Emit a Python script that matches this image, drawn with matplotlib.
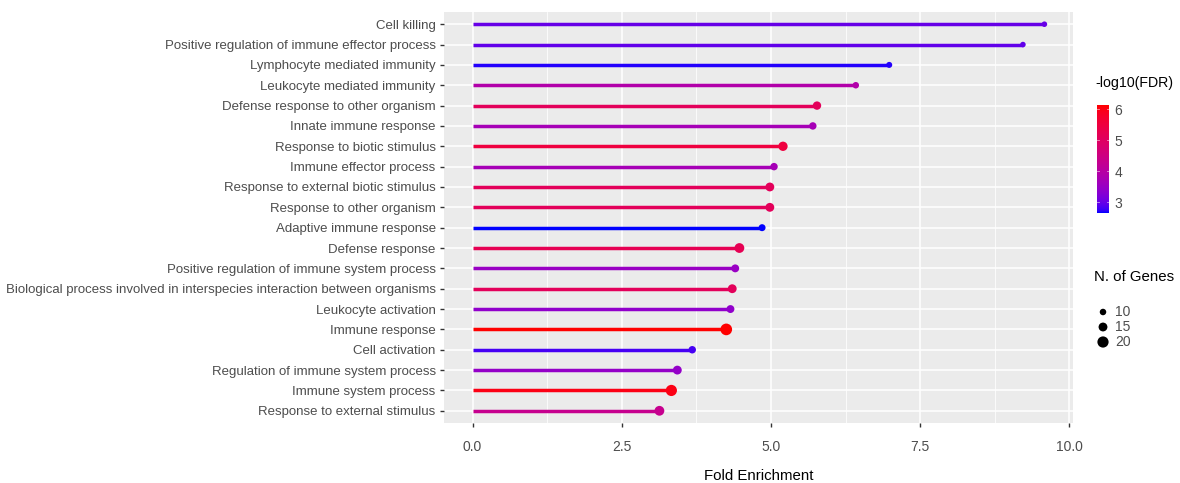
import numpy as np
import matplotlib
matplotlib.use("Agg")
import matplotlib.pyplot as plt
from matplotlib.colors import ListedColormap, Normalize
from matplotlib.ticker import MultipleLocator

# ---- data -------------------------------------------------------------
terms = [
    "Cell killing",
    "Positive regulation of immune effector process",
    "Lymphocyte mediated immunity",
    "Leukocyte mediated immunity",
    "Defense response to other organism",
    "Innate immune response",
    "Response to biotic stimulus",
    "Immune effector process",
    "Response to external biotic stimulus",
    "Response to other organism",
    "Adaptive immune response",
    "Defense response",
    "Positive regulation of immune system process",
    "Biological process involved in interspecies interaction between organisms",
    "Leukocyte activation",
    "Immune response",
    "Cell activation",
    "Regulation of immune system process",
    "Immune system process",
    "Response to external stimulus",
]
fold_enrichment = [9.58, 9.22, 6.98, 6.42, 5.77, 5.70, 5.20, 5.05, 4.98, 4.98,
                   4.85, 4.47, 4.40, 4.35, 4.32, 4.25, 3.68, 3.43, 3.33, 3.13]
neg_log10_fdr = [3.00, 2.95, 2.70, 3.90, 5.10, 3.70, 5.50, 3.70, 5.10, 5.10,
                 2.65, 5.20, 3.50, 5.10, 3.40, 6.13, 2.80, 3.45, 6.00, 4.30]
n_genes = [8, 8, 9, 10, 14, 12, 16, 12, 15, 15,
           11, 17, 13, 15, 13, 21, 12, 15, 20, 17]
size_breaks = [10, 15, 20]
fdr_breaks = [3, 4, 5, 6]
x_breaks = [0.0, 2.5, 5.0, 7.5, 10.0]

plt.rcParams["font.family"] = ["Liberation Sans", "DejaVu Sans"]

GREY_TXT = "#4D4D4D"
PANEL = "#EBEBEB"


# ---- blue -> red gradient interpolated in CIE Lab ---------------------
def srgb_to_lab(rgb):
    rgb = np.asarray(rgb, float)
    lin = np.where(rgb <= 0.04045, rgb / 12.92, ((rgb + 0.055) / 1.055) ** 2.4)
    M = np.array([[0.4124, 0.3576, 0.1805],
                  [0.2126, 0.7152, 0.0722],
                  [0.0193, 0.1192, 0.9505]])
    xyz = M @ lin / np.array([0.95047, 1.0, 1.08883])
    f = np.where(xyz > 0.008856, np.cbrt(xyz), 7.787 * xyz + 16 / 116)
    return np.array([116 * f[1] - 16, 500 * (f[0] - f[1]), 200 * (f[1] - f[2])])


def lab_to_srgb(lab):
    L, a, b = lab
    fy_ = (L + 16) / 116
    fx_ = fy_ + a / 500
    fz_ = fy_ - b / 200
    f = np.array([fx_, fy_, fz_])
    xyz = np.where(f ** 3 > 0.008856, f ** 3, (f - 16 / 116) / 7.787)
    xyz = xyz * np.array([0.95047, 1.0, 1.08883])
    Minv = np.array([[3.2406, -1.5372, -0.4986],
                     [-0.9689, 1.8758, 0.0415],
                     [0.0557, -0.2040, 1.0570]])
    lin = np.clip(Minv @ xyz, 0, 1)
    rgb = np.where(lin <= 0.0031308, 12.92 * lin, 1.055 * lin ** (1 / 2.4) - 0.055)
    return np.clip(rgb, 0, 1)


lab_lo = srgb_to_lab([0, 0, 1])
lab_hi = srgb_to_lab([1, 0, 0])
cmap = ListedColormap([lab_to_srgb(lab_lo + t * (lab_hi - lab_lo))
                       for t in np.linspace(0, 1, 256)])
norm = Normalize(vmin=min(neg_log10_fdr), vmax=max(neg_log10_fdr))


def genes_to_area(g):
    diam_px = 1.8 + 0.47 * np.asarray(g, float)
    return (diam_px * 72 / 100) ** 2


# ---- figure -----------------------------------------------------------
W, H = 1180, 483
fig = plt.figure(figsize=(W / 100, H / 100), dpi=100)


def fx(px):
    return px / W


def fy(px):
    return 1 - px / H


ax = fig.add_axes([fx(444), fy(423), fx(1073) - fx(444), fy(12) - fy(423)])
ax.set_facecolor(PANEL)
for s in ax.spines.values():
    s.set_visible(False)

ypos = np.arange(len(terms))[::-1]
colors = cmap(norm(np.asarray(neg_log10_fdr)))

ax.hlines(ypos, 0, fold_enrichment, colors=colors, linewidth=2.5, zorder=3)
ax.scatter(fold_enrichment, ypos, s=genes_to_area(n_genes), c=colors,
           zorder=4, linewidths=0)

xmax = max(fold_enrichment)
pad = 0.05 * xmax
ax.set_xlim(-pad, xmax + pad)
ax.set_ylim(-0.6, len(terms) - 0.4)

ax.set_xticks(x_breaks)
ax.set_xticklabels([f"{v:.1f}" for v in x_breaks])
ax.xaxis.set_minor_locator(MultipleLocator(1.25))
ax.set_yticks(ypos)
ax.set_yticklabels(terms)

ax.grid(True, which="major", color="white", linewidth=1.1, zorder=0)
ax.grid(True, which="minor", axis="x", color="white", linewidth=0.55, zorder=0)
ax.set_axisbelow(True)
ax.tick_params(axis="both", which="major", length=3, width=1, color="#333333",
               labelcolor=GREY_TXT, pad=3)
ax.tick_params(axis="y", labelsize=9.5)
ax.tick_params(axis="x", labelsize=10, pad=9)
ax.tick_params(axis="x", which="minor", length=0)
ax.set_xlabel("Fold Enrichment", fontsize=10.8, color="black", labelpad=11)

# ---- colour bar legend -----------------------------------------------
fig.text(fx(1095), fy(83), "-log10(FDR)", fontsize=10.2, color="black",
         va="center", ha="left")
cax = fig.add_axes([fx(1097), fy(213), fx(1109) - fx(1097), fy(105) - fy(213)])
grad = np.linspace(norm.vmin, norm.vmax, 200).reshape(-1, 1)
cax.imshow(grad, aspect="auto", origin="lower", cmap=cmap, norm=norm,
           extent=[0, 1, norm.vmin, norm.vmax])
cax.set_xlim(0, 1)
cax.set_ylim(norm.vmin, norm.vmax)
cax.set_xticks([])
cax.yaxis.tick_right()
cax.set_yticks(fdr_breaks)
cax.tick_params(axis="y", length=0, labelsize=10, labelcolor=GREY_TXT, pad=4)
for v in fdr_breaks:
    cax.plot([0, 0.2], [v, v], color="white", lw=0.6, alpha=0.6)
    cax.plot([0.8, 1], [v, v], color="white", lw=0.6, alpha=0.6)
for s in cax.spines.values():
    s.set_visible(False)

# ---- size legend ------------------------------------------------------
fig.text(fx(1094), fy(277), "N. of Genes", fontsize=10.8, color="black",
         va="center", ha="left")
sax = fig.add_axes([fx(1090), fy(352), fx(1180) - fx(1090), fy(302) - fy(352)])
sax.set_xlim(0, 90)
sax.set_ylim(50, 0)
sax.axis("off")
leg_y = [10, 25, 40]
sax.scatter([13] * len(size_breaks), leg_y, s=genes_to_area(size_breaks),
            color="black", linewidths=0)
for yy, g in zip(leg_y, size_breaks):
    sax.text(25, yy, str(g), fontsize=10, color=GREY_TXT, va="center", ha="left")

fig.savefig("out.png", dpi=100, facecolor="white")
